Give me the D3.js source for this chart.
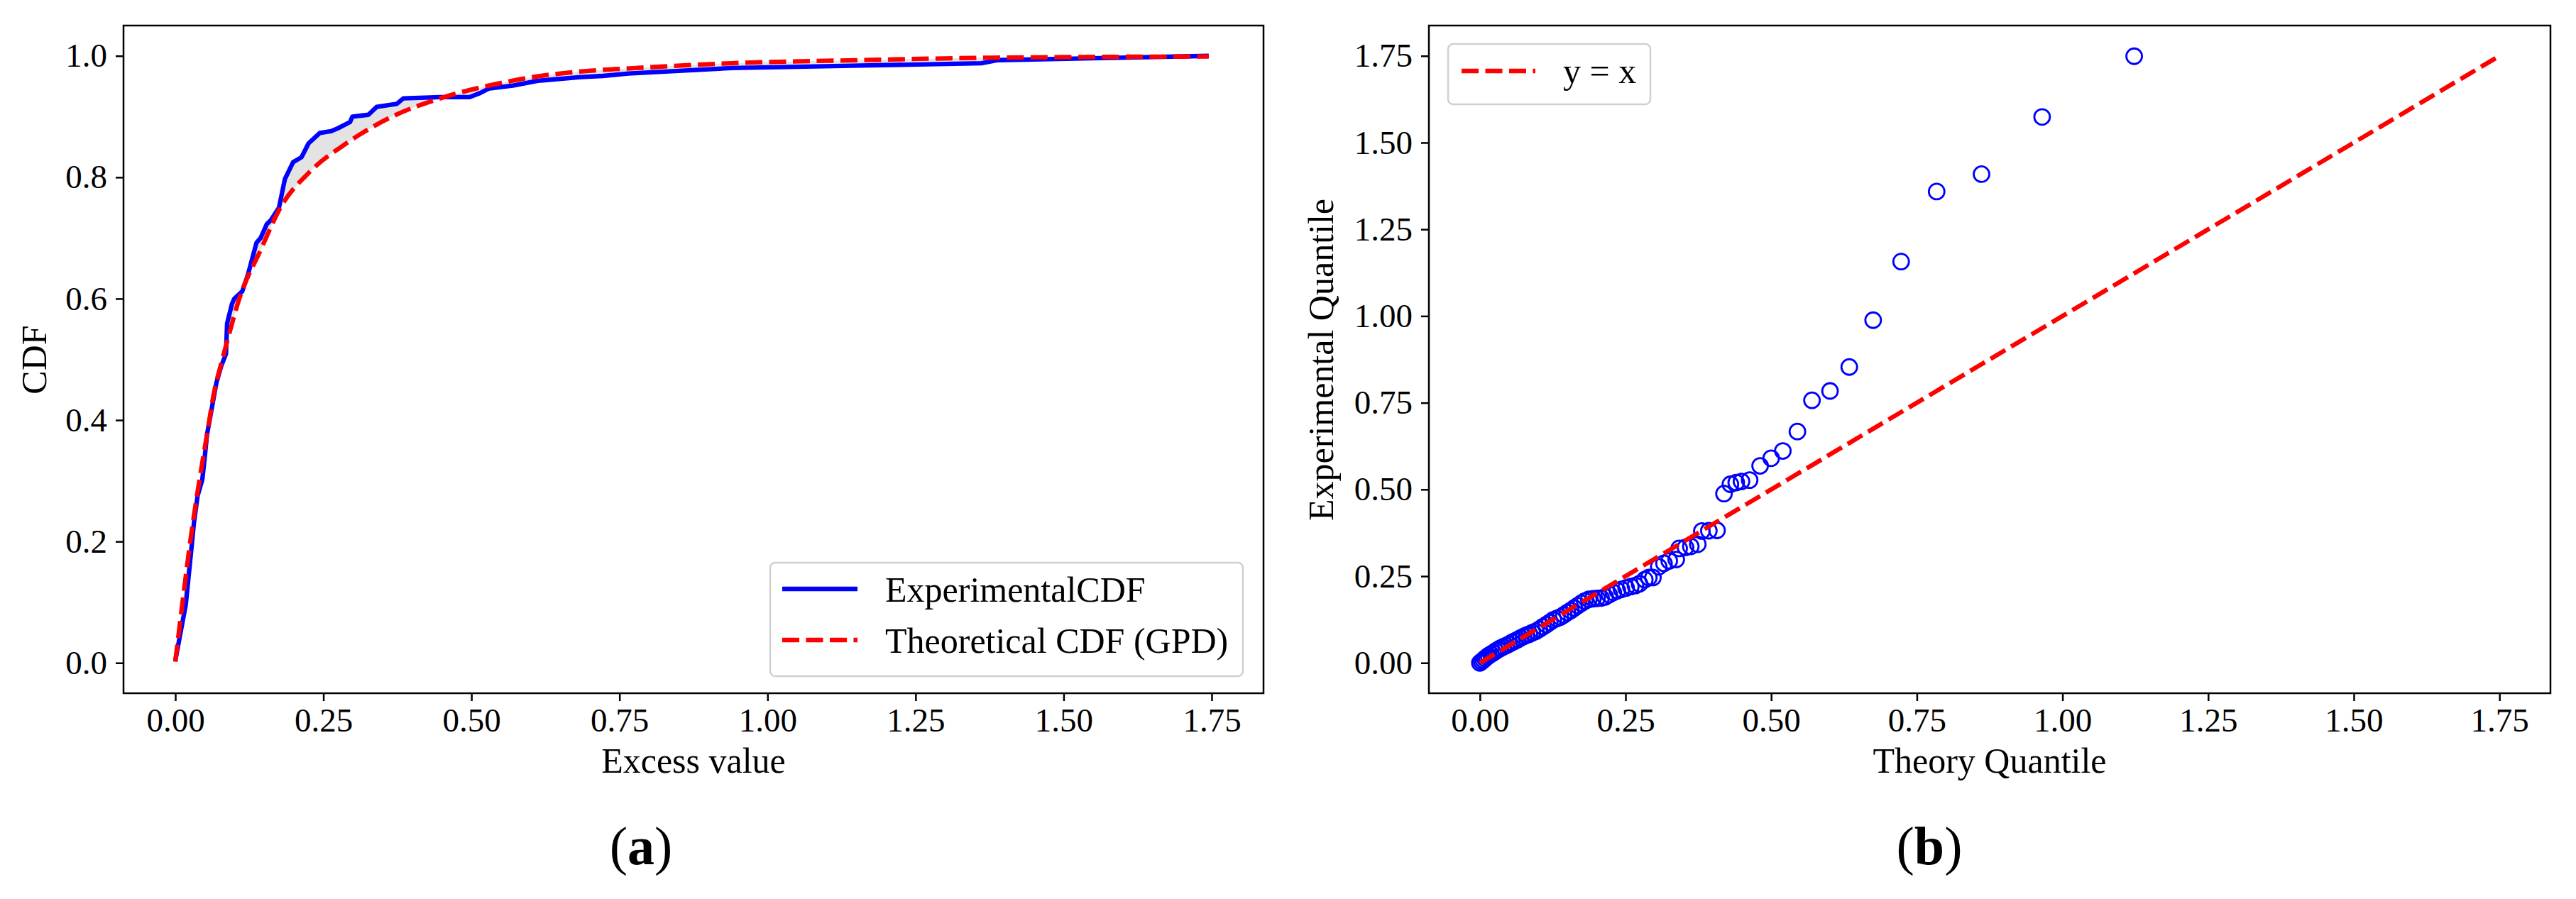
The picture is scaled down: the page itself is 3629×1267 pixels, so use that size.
<!DOCTYPE html>
<html>
<head>
<meta charset="utf-8">
<script src="https://cdn.jsdelivr.net/npm/d3@7"></script>
<style>
  html, body { margin: 0; padding: 0; background: #ffffff; }
  svg { display: block; }
  text { font-family: "Liberation Serif", "Times New Roman", serif; fill: #000; }
</style>
</head>
<body>
<svg id="chart" width="3629" height="1267"></svg>
<script>
// ---------------- DATA ----------------
// Panel (a): empirical CDF (Excess value, CDF)
const expX = [0.000, 0.0176, 0.0256, 0.0316, 0.0376, 0.0456, 0.0495, 0.0535, 0.0615, 0.0695, 0.0775, 0.0855, 0.0874, 0.0955,
  0.0995, 0.113, 0.123, 0.137, 0.144, 0.1545, 0.161, 0.175, 0.185, 0.199, 0.213, 0.225, 0.244, 0.263, 0.275, 0.295, 0.299,
  0.326, 0.340, 0.374, 0.385, 0.447, 0.497, 0.515, 0.529, 0.570, 0.612, 0.685, 0.722, 0.765, 0.940, 1.158, 1.361, 1.389,
  1.593, 1.745];
const expY = [0.004, 0.0955, 0.173, 0.232, 0.275, 0.302, 0.337, 0.376, 0.419, 0.462, 0.489, 0.509, 0.559, 0.591,
  0.600, 0.612, 0.641, 0.692, 0.700, 0.723, 0.729, 0.750, 0.797, 0.825, 0.833, 0.856, 0.873, 0.876, 0.881, 0.891, 0.900,
  0.903, 0.916, 0.921, 0.930, 0.932, 0.932, 0.939, 0.946, 0.951, 0.959, 0.965, 0.967, 0.971, 0.980, 0.984, 0.988, 0.993,
  0.997, 1.000];
// Panel (a): theoretical GPD CDF
const theoX = [0.000, 0.0116, 0.0275, 0.0415, 0.0535, 0.0655, 0.0775, 0.089, 0.108, 0.144, 0.178, 0.227, 0.289, 0.364,
  0.447, 0.529, 0.632, 0.722, 0.777, 0.940, 1.158, 1.375, 1.745];
const theoY = [0.002, 0.0955, 0.216, 0.306, 0.376, 0.446, 0.493, 0.535, 0.600, 0.680, 0.751, 0.809, 0.856, 0.899,
  0.930, 0.951, 0.969, 0.977, 0.980, 0.988, 0.993, 0.997, 0.999];

// Panel (b): Q-Q plot
const qqTheory = [0.000, 0.003, 0.006, 0.009, 0.012, 0.015, 0.019, 0.023, 0.027, 0.031, 0.035, 0.040, 0.045, 0.050,
  0.055, 0.060, 0.065, 0.070, 0.075, 0.080, 0.085, 0.090, 0.096, 0.102, 0.108, 0.114, 0.120, 0.126, 0.132, 0.138,
  0.144, 0.150, 0.156, 0.162, 0.168, 0.174, 0.180, 0.187, 0.194, 0.201, 0.208, 0.215, 0.222, 0.229, 0.236, 0.243,
  0.251, 0.259, 0.267, 0.274, 0.283, 0.290, 0.297, 0.307, 0.316, 0.325, 0.337, 0.342, 0.353, 0.362, 0.374, 0.381,
  0.393, 0.407, 0.419, 0.430, 0.440, 0.449, 0.463, 0.481, 0.500, 0.520, 0.545, 0.570, 0.601, 0.634, 0.675, 0.723,
  0.784, 0.861, 0.965, 1.123];
const qqExperimental = [0.000, 0.004, 0.008, 0.013, 0.017, 0.021, 0.025, 0.029, 0.034, 0.038, 0.042, 0.046, 0.050, 0.054,
  0.059, 0.063, 0.067, 0.072, 0.076, 0.080, 0.083, 0.087, 0.091, 0.097, 0.104, 0.110, 0.117, 0.124, 0.128, 0.132,
  0.138, 0.145, 0.151, 0.158, 0.165, 0.172, 0.178, 0.183, 0.185, 0.186, 0.187, 0.190, 0.197, 0.203, 0.208, 0.212,
  0.216, 0.220, 0.223, 0.228, 0.240, 0.246, 0.246, 0.277, 0.287, 0.294, 0.298, 0.330, 0.333, 0.336, 0.342, 0.380,
  0.381, 0.382, 0.488, 0.515, 0.520, 0.523, 0.527, 0.568, 0.590, 0.611, 0.667, 0.757, 0.784, 0.853, 0.988, 1.157,
  1.359, 1.409, 1.574, 1.749];
const refLine = [0, 1.749];

// Ticks
const xTicks = [0, 0.25, 0.5, 0.75, 1.0, 1.25, 1.5, 1.75];
const yTicksA = [0, 0.2, 0.4, 0.6, 0.8, 1.0];
const yTicksB = [0, 0.25, 0.5, 0.75, 1.0, 1.25, 1.5, 1.75];

// Texts
const labelsA = { x: "Excess value", y: "CDF", caption: "a" };
const labelsB = { x: "Theory Quantile", y: "Experimental Quantile", caption: "b" };
const legendA = ["ExperimentalCDF", "Theoretical CDF (GPD)"];
const legendB = ["y = x"];

// ---------------- DRAW ----------------
const svg = d3.select("#chart");
const TICK_FS = 47, LABEL_FS = 50, LEG_FS = 50, CAP_FS = 76;
const BLUE = "#0000ff", RED = "#ff0000";
const TOP = 36, BOTTOM = 977;

function axesFrame(g, x0, x1) {
  g.append("rect").attr("x", x0).attr("y", TOP).attr("width", x1 - x0).attr("height", BOTTOM - TOP)
    .attr("fill", "none").attr("stroke", "#000").attr("stroke-width", 2.5);
}

function drawAxes(g, x, y, yTicks, yFmt) {
  const ax = g.append("g").attr("transform", `translate(0,${BOTTOM})`)
    .call(d3.axisBottom(x).tickValues(xTicks).tickFormat(d3.format(".2f")).tickSize(11).tickSizeOuter(0).tickPadding(9.5));
  const ay = g.append("g").attr("transform", `translate(${x.range()[0]},0)`)
    .call(d3.axisLeft(y).tickValues(yTicks).tickFormat(d3.format(yFmt)).tickSize(11).tickSizeOuter(0).tickPadding(12));
  [ax, ay].forEach(a => {
    a.select(".domain").remove();
    a.selectAll(".tick line").attr("stroke", "#000").attr("stroke-width", 2.5);
    a.selectAll(".tick text").attr("font-family", "Liberation Serif").attr("font-size", TICK_FS).attr("fill", "#000");
  });
}

function caption(g, cx, letter) {
  const t = g.append("text").attr("x", cx).attr("y", 1218).attr("text-anchor", "middle")
    .attr("font-size", CAP_FS);
  t.append("tspan").text("(");
  t.append("tspan").attr("font-weight", "bold").text(letter);
  t.append("tspan").text(")");
}

// ---------- Panel (a) ----------
const gA = svg.append("g");
const xA = d3.scaleLinear().domain([-0.0875, 1.8375]).range([174, 1780]);
const yA = d3.scaleLinear().domain([-0.05, 1.05]).range([BOTTOM, TOP]);

const expPts = expX.map((v, i) => [xA(v), yA(expY[i])]);
const theoPts = theoX.map((v, i) => [xA(v), yA(theoY[i])]);
const theoPath = d3.line().curve(d3.curveMonotoneX);

// filled region between the two curves
const theoSampled = (() => {
  const p = document.createElementNS("http://www.w3.org/2000/svg", "path");
  p.setAttribute("d", theoPath(theoPts));
  return p;
})();
const fillD = d3.line()(expPts) + theoPath(theoPts.slice().reverse()).replace(/^M/, "L") + "Z";
gA.append("path").attr("d", fillD).attr("fill", "#e3e3e3").attr("stroke", "none");

gA.append("path").attr("d", d3.line()(expPts)).attr("fill", "none").attr("stroke", BLUE)
  .attr("stroke-width", 6.3).attr("stroke-linejoin", "round");
gA.append("path").attr("d", theoPath(theoPts)).attr("fill", "none").attr("stroke", RED)
  .attr("stroke-width", 6.3).attr("stroke-dasharray", "24,9.5");

axesFrame(gA, 174, 1780);
drawAxes(gA, xA, yA, yTicksA, ".1f");

gA.append("text").attr("x", 977).attr("y", 1089).attr("text-anchor", "middle").attr("font-size", LABEL_FS).text(labelsA.x);
gA.append("text").attr("transform", "translate(65,507) rotate(-90)").attr("text-anchor", "middle")
  .attr("font-size", LABEL_FS).text(labelsA.y);

// legend (a)
const lgA = gA.append("g");
lgA.append("rect").attr("x", 1085).attr("y", 793).attr("width", 666).attr("height", 160).attr("rx", 7)
  .attr("fill", "#fff").attr("fill-opacity", 0.8).attr("stroke", "#d0d0d0").attr("stroke-width", 2.5);
lgA.append("line").attr("x1", 1102).attr("x2", 1208).attr("y1", 830).attr("y2", 830)
  .attr("stroke", BLUE).attr("stroke-width", 6.3);
lgA.append("line").attr("x1", 1102).attr("x2", 1208).attr("y1", 902).attr("y2", 902)
  .attr("stroke", RED).attr("stroke-width", 6.3).attr("stroke-dasharray", "24,9.5");
lgA.append("text").attr("x", 1247).attr("y", 848).attr("font-size", LEG_FS).text(legendA[0]);
lgA.append("text").attr("x", 1247).attr("y", 920).attr("font-size", LEG_FS).text(legendA[1]);

caption(gA, 903, labelsA.caption);

// ---------- Panel (b) ----------
const gB = svg.append("g");
const xB = d3.scaleLinear().domain([-0.0875, 1.8375]).range([2013, 3593]);
const yB = d3.scaleLinear().domain([-0.0875, 1.8375]).range([BOTTOM, TOP]);

gB.append("g").selectAll("circle").data(qqTheory).join("circle")
  .attr("cx", d => xB(d)).attr("cy", (d, i) => yB(qqExperimental[i])).attr("r", 11)
  .attr("fill", "none").attr("stroke", BLUE).attr("stroke-width", 2.8);

gB.append("path").attr("d", d3.line()(refLine.map(v => [xB(v), yB(v)])))
  .attr("fill", "none").attr("stroke", RED).attr("stroke-width", 6.3).attr("stroke-dasharray", "24,9.5");

axesFrame(gB, 2013, 3593);
drawAxes(gB, xB, yB, yTicksB, ".2f");

gB.append("text").attr("x", 2803).attr("y", 1089).attr("text-anchor", "middle").attr("font-size", LABEL_FS).text(labelsB.x);
gB.append("text").attr("transform", "translate(1878,507) rotate(-90)").attr("text-anchor", "middle")
  .attr("font-size", LABEL_FS).text(labelsB.y);

// legend (b)
const lgB = gB.append("g");
lgB.append("rect").attr("x", 2040).attr("y", 62).attr("width", 285).attr("height", 85).attr("rx", 7)
  .attr("fill", "#fff").attr("fill-opacity", 0.8).attr("stroke", "#d0d0d0").attr("stroke-width", 2.5);
lgB.append("line").attr("x1", 2059).attr("x2", 2163).attr("y1", 100).attr("y2", 100)
  .attr("stroke", RED).attr("stroke-width", 6.3).attr("stroke-dasharray", "24,9.5");
lgB.append("text").attr("x", 2202).attr("y", 117).attr("font-size", LEG_FS).text(legendB[0]);

caption(gB, 2718, labelsB.caption);
</script>
</body>
</html>
